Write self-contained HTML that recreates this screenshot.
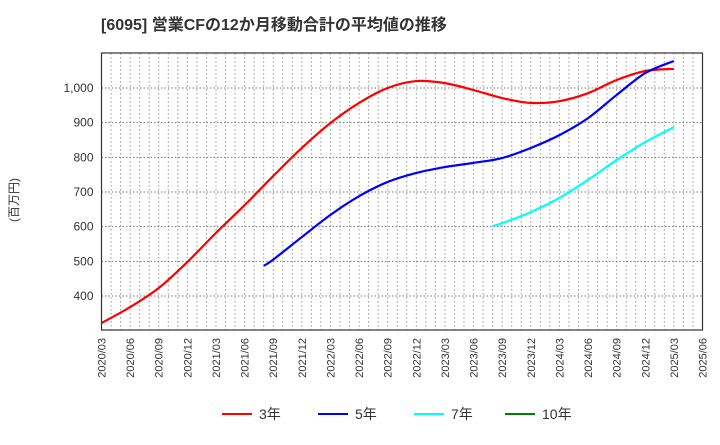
<!DOCTYPE html>
<html><head><meta charset="utf-8"><style>
body{margin:0;background:#fff;width:720px;height:440px;overflow:hidden;font-family:"Liberation Sans","Noto Sans CJK JP",sans-serif}
</style></head><body>
<svg id="c" width="720" height="440" xmlns="http://www.w3.org/2000/svg">
<text x="101" y="30" font-size="16" font-weight="bold" fill="#333" font-family="Liberation Sans, Noto Sans CJK JP, sans-serif">[6095]  営業CFの12か月移動合計の平均値の推移</text>
<text transform="translate(18,200) rotate(-90)" font-size="12" fill="#333" text-anchor="middle" font-family="Liberation Sans, Noto Sans CJK JP, sans-serif">(百万円)</text>
<g id="grid"></g><g id="series"></g><g id="axes"></g>
</svg>
<script>
const yTicks=[400,500,600,700,800,900,1000];
const xLabels=["2020/03","2020/06","2020/09","2020/12","2021/03","2021/06","2021/09","2021/12","2022/03","2022/06","2022/09","2022/12","2023/03","2023/06","2023/09","2023/12","2024/03","2024/06","2024/09","2024/12","2025/03","2025/06"];
// month index from 2020/03
const m3=[0,3,6,9,12,15,18,21,24,27,30,33,36,39,42,45,48,51,54,57,60];
const v3=[322,368,423,498,582,662,746,827,899,957,1000,1020,1014,994,971,957,962,985,1023,1049,1055];
const m5=[17,18,21,24,27,30,33,36,39,42,45,48,51,54,57,60];
const v5=[487,505,570,634,688,729,755,772,784,798,827,864,913,980,1043,1078];
const m7=[41,42,45,48,51,54,57,60];
const v7=[602,610,642,683,735,792,844,887];
const L=101.5,R=702.5,T=53,B=330,NM=63;
const x=m=>L+(R-L)*m/NM;
const y=v=>296-(v-400)*0.34667;
const ns="http://www.w3.org/2000/svg";
function mk(tag,attrs,parent){const e=document.createElementNS(ns,tag);for(const k in attrs)e.setAttribute(k,attrs[k]);parent.appendChild(e);return e;}
const grid=document.getElementById('grid'),axes=document.getElementById('axes'),ser=document.getElementById('series');
for(let m=1;m<NM;m++){const g=mk('line',{x1:x(m),x2:x(m),y1:T,y2:B,stroke:'#999','stroke-dasharray':'1.5,2.5','stroke-width':1},grid);

}
yTicks.forEach(v=>{const g=mk('line',{x1:L,x2:R,y1:y(v),y2:y(v),stroke:'#777','stroke-dasharray':'1.5,2','stroke-width':1},grid);


const t=mk('text',{x:L-8,y:y(v)+4,'font-size':12,fill:'#333','text-anchor':'end'},axes);t.textContent=v.toLocaleString('en-US');

});
xLabels.forEach((s,i)=>{const xx=x(i*3);const t=mk('text',{transform:`translate(${xx+4},${B+8}) rotate(-90)`,'font-size':11,fill:'#333','text-anchor':'end'},axes);t.textContent=s;

});
const fr=mk('rect',{x:L,y:T,width:R-L,height:B-T,fill:'none',stroke:'#333','stroke-width':1.2},axes);


function path(ms,vs){const p=ms.map((m,i)=>[x(m),y(vs[i])]);let d=`M${p[0][0]},${p[0][1]}`;
for(let i=0;i<p.length-1;i++){const p0=p[i-1]||p[i],p1=p[i],p2=p[i+1],p3=p[i+2]||p2;
d+=` C${p1[0]+(p2[0]-p0[0])/6},${p1[1]+(p2[1]-p0[1])/6} ${p2[0]-(p3[0]-p1[0])/6},${p2[1]-(p3[1]-p1[1])/6} ${p2[0]},${p2[1]}`;}return d;}
[[m3,v3,'#ff0000','line-3yr'],[m5,v5,'#0000ff','line-5yr'],[m7,v7,'#00ffff','line-7yr']].forEach(([ms,vs,c,n])=>{
const e=mk('path',{d:path(ms,vs),fill:'none',stroke:c,'stroke-width':2.2},ser);

});
const leg=[['3年','#ff0000',222],['5年','#0000ff',318],['7年','#00ffff',414],['10年','#008000',505]];
leg.forEach(([s,c,lx])=>{const g=mk('g',{},document.getElementById('c'));


mk('line',{x1:lx,x2:lx+30,y1:414,y2:414,stroke:c,'stroke-width':2},g);
const t=mk('text',{x:lx+37,y:419,'font-size':14,fill:'#333'},g);t.textContent=s;});
</script>
</body></html>
